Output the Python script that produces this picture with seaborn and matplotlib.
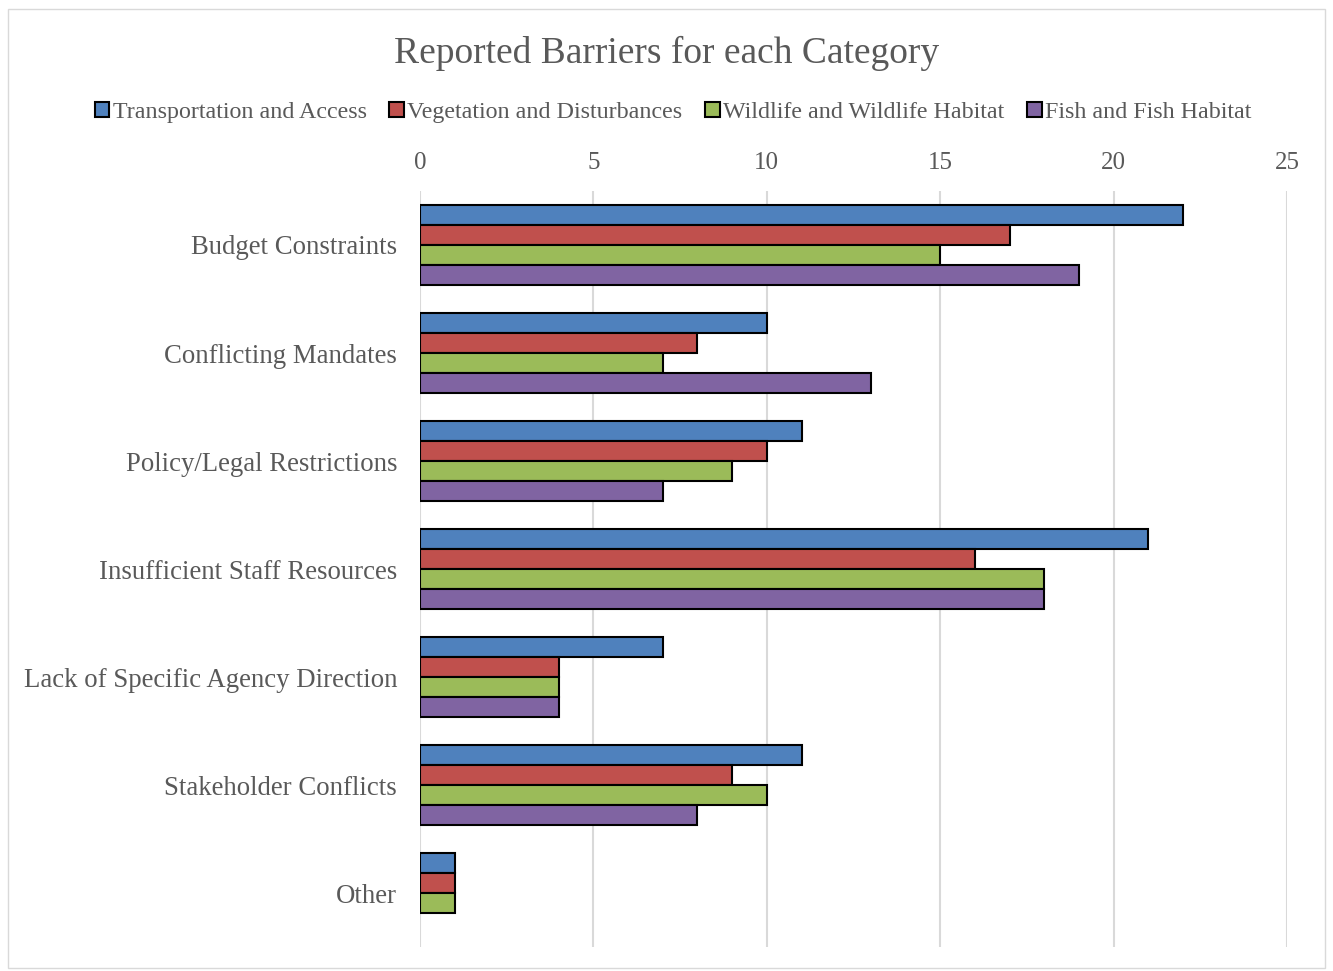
import matplotlib
matplotlib.use("Agg")
import matplotlib.pyplot as plt
import seaborn as sns
import pandas as pd
from matplotlib.patches import Rectangle

categories = ["Budget Constraints", "Conflicting Mandates", "Policy/Legal Restrictions",
              "Insufficient Staff Resources", "Lack of Specific Agency Direction",
              "Stakeholder Conflicts", "Other"]
series = ["Transportation and Access", "Vegetation and Disturbances",
          "Wildlife and Wildlife Habitat", "Fish and Fish Habitat"]
transportation = [22, 10, 11, 21, 7, 11, 1]
vegetation = [17, 8, 10, 16, 4, 9, 1]
wildlife = [15, 7, 9, 18, 4, 10, 1]
fish = [19, 13, 7, 18, 4, 8, None]
colors = ["#4F81BD", "#C0504D", "#9BBB59", "#8064A2"]

rows = []
for s, vals in zip(series, [transportation, vegetation, wildlife, fish]):
    for c, v in zip(categories, vals):
        if v is not None:
            rows.append({"Category": c, "Series": s, "Value": v})
df = pd.DataFrame(rows)

sns.set_theme(style="white")
plt.rcParams['font.family'] = ['Liberation Serif', 'DejaVu Serif']

fig = plt.figure(figsize=(13.33, 9.71), dpi=100)
ax = fig.add_axes([0.3151, 0.0247, 0.6504, 0.7786])

sns.barplot(data=df, y="Category", x="Value", hue="Series", order=categories,
            hue_order=series, palette=colors, saturation=1, orient="h", width=0.74,
            edgecolor="black", linewidth=1.5, ax=ax, legend=True, zorder=3)

ax.set_xlim(0, 25)
ax.set_xticks([0, 5, 10, 15, 20, 25])
ax.xaxis.tick_top()
ax.set_xlabel("")
ax.set_ylabel("")
ax.grid(axis="x", color="#D9D9D9", linewidth=1.5, zorder=0)
ax.grid(axis="y", visible=False)
ax.set_axisbelow(True)
for sp in ax.spines.values():
    sp.set_visible(False)
ax.tick_params(axis="x", length=0, pad=12, labelsize=18, labelcolor="#595959")
ax.tick_params(axis="y", length=0, pad=16.5, labelsize=19.3, labelcolor="#595959")

handles, labels = ax.get_legend_handles_labels()
ax.legend_.remove()
fig.legend(handles, labels, loc="center", bbox_to_anchor=(0.505, 0.884), ncol=4,
           frameon=False, fontsize=17.3, labelcolor="#595959", handlelength=0.6,
           handleheight=0.6, handletextpad=0.15, columnspacing=0.95)

fig.text(0.5, 0.945, "Reported Barriers for each Category", ha="center", va="center",
         fontsize=27, color="#595959")

fig.patches.append(Rectangle((0.006, 0.003), 0.988, 0.988, transform=fig.transFigure,
                             fill=False, edgecolor="#D9D9D9", linewidth=1))

fig.savefig("out.png", dpi=100)
